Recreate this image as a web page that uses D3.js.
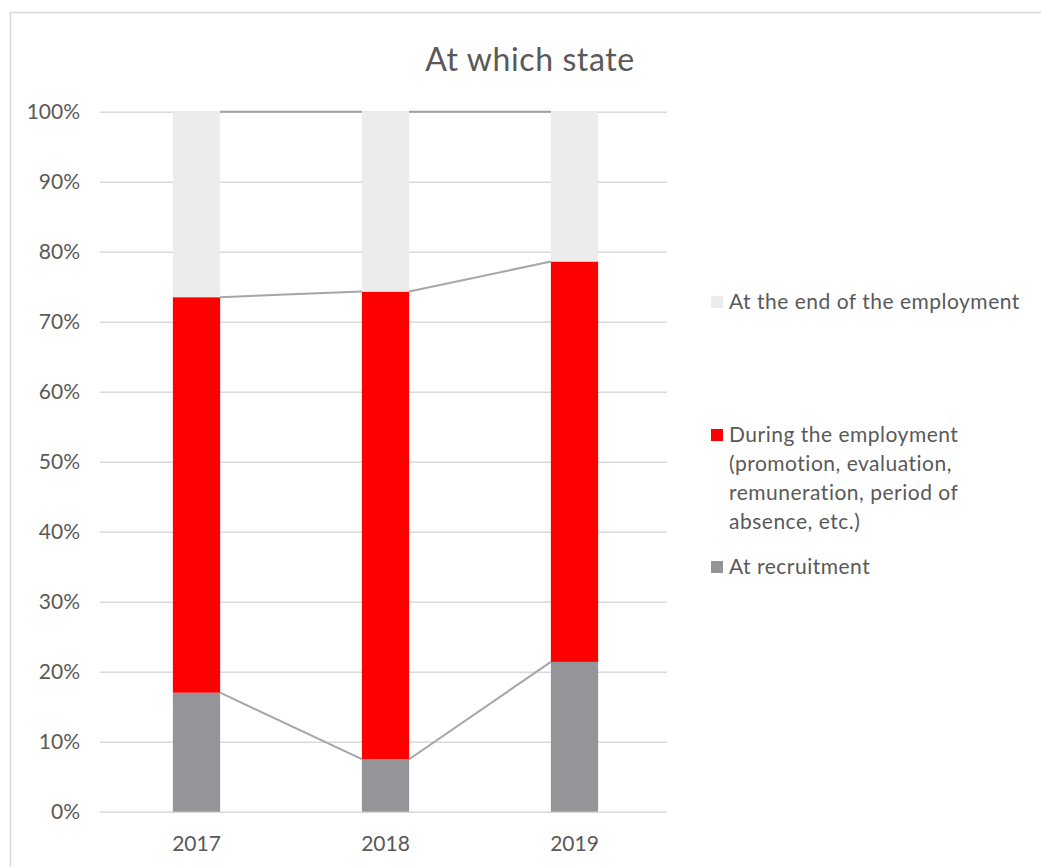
<!DOCTYPE html>
<html>
<head>
<meta charset="utf-8">
<script src="https://cdn.jsdelivr.net/npm/d3@7"></script>
<style>
  body { margin: 0; background: #fff; }
  text { font-family: Lato, "Open Sans", sans-serif; fill: #595959; }
</style>
</head>
<body>
<svg id="chart"></svg>
<script>
const years = ['2017', '2018', '2019'];
const recruitment = [17.0, 7.5, 21.4];
const during = [56.5, 66.8, 57.2];
const endOfEmployment = [26.5, 25.7, 21.4];
const seriesNames = [
  'At recruitment',
  'During the employment (promotion, evaluation, remuneration, period of absence, etc.)',
  'At the end of the employment',
];
const yTicks = [0, 10, 20, 30, 40, 50, 60, 70, 80, 90, 100];
const title = 'At which state';

const config = {
  width: 1041,
  height: 867,
  left: 100,
  right: 667,
  top: 111.7,
  bottom: 811.7,
  colors: ['#939598', '#ff0000', '#ececec'],
  grid: '#d9d9d9',
  seriesLine: '#a6a6a6',
};
const c = config;

const svg = d3.select('#chart').attr('width', c.width).attr('height', c.height);

// frame
svg.append('rect')
  .attr('x', 10.5).attr('y', 12.5)
  .attr('width', c.width).attr('height', c.height)
  .attr('fill', 'none').attr('stroke', '#d9d9d9').attr('stroke-width', 1.5);

svg.append('text')
  .attr('x', 530).attr('y', 71)
  .attr('text-anchor', 'middle')
  .style('font-size', '32px')
  .style('letter-spacing', '0.6px')
  .text(title);

// bars sit 2px right of the grid
const x = d3.scaleBand(years, [c.left + 2, c.right + 2]).paddingInner(0.75).paddingOuter(0.375);
const y = d3.scaleLinear([0, 100], [c.bottom, c.top]);

// gridlines + y labels
const yAxis = d3.axisLeft(y).tickValues(yTicks).tickFormat(d => d + '%').tickSize(0).tickPadding(20);
svg.append('g')
  .attr('transform', `translate(${c.left},0)`)
  .call(yAxis)
  .call(g => g.select('.domain').remove())
  .call(g => g.selectAll('.tick line').clone()
    .attr('x2', c.right - c.left)
    .attr('stroke', c.grid).attr('stroke-width', 1.5))
  .call(g => g.selectAll('.tick text')
    .style('font-size', '21px').attr('fill', '#595959')
    .style('font-family', 'Lato, sans-serif'));

// stacked data
const rows = years.map((yr, i) => ({ year: yr, a: recruitment[i], b: during[i], c: endOfEmployment[i] }));
const stack = d3.stack().keys(['a', 'b', 'c']);
const layers = stack(rows);

svg.append('g')
  .selectAll('g')
  .data(layers)
  .join('g')
  .attr('fill', (_, i) => c.colors[i])
  .selectAll('rect')
  .data(d => d)
  .join('rect')
  .attr('x', d => x(d.data.year))
  .attr('width', x.bandwidth())
  .attr('y', d => y(d[1]))
  .attr('height', d => y(d[0]) - y(d[1]));

// series lines between bars
const lineG = svg.append('g').attr('fill', 'none');
layers.forEach((layer, li) => {
  for (let i = 0; i < layer.length - 1; i++) {
    lineG.append('line')
      .attr('x1', x(years[i]) + x.bandwidth())
      .attr('x2', x(years[i + 1]))
      .attr('y1', y(layer[i][1]))
      .attr('y2', y(layer[i + 1][1]))
      .attr('stroke', li === 2 ? '#a0a0a0' : c.seriesLine)
      .attr('stroke-width', 2);
  }
});

// x labels
svg.append('g')
  .attr('transform', `translate(0,${c.bottom})`)
  .call(d3.axisBottom(x).tickSize(0).tickPadding(24))
  .call(g => g.select('.domain').remove())
  .call(g => g.selectAll('.tick text')
    .style('font-size', '21px').attr('fill', '#595959')
    .style('font-family', 'Lato, sans-serif'));

// legend
const legendItems = [
  { i: 2, y: 302 },
  { i: 1, y: 435 },
  { i: 0, y: 567 },
];
const legend = svg.append('g');
legendItems.forEach(item => {
  const g = legend.append('g').attr('transform', `translate(711,${item.y})`);
  g.append('rect')
    .attr('x', 0).attr('y', -6)
    .attr('width', 12).attr('height', 12)
    .attr('fill', c.colors[item.i]);
  const t = g.append('text')
    .style('font-size', '21px')
    .style('letter-spacing', '0.5px');
  const words = seriesNames[item.i].split(' ');
  let line = [];
  let ln = 0;
  const newLine = () => t.append('tspan').attr('x', 18).attr('y', ln * 29).attr('dy', '0.35em');
  let tspan = newLine();
  words.forEach(w => {
    line.push(w);
    tspan.text(line.join(' '));
    if (tspan.node().getComputedTextLength() > 305 && line.length > 1) {
      line.pop();
      tspan.text(line.join(' '));
      line = [w];
      ln++;
      tspan = newLine().text(w);
    }
  });
});
</script>
</body>
</html>
